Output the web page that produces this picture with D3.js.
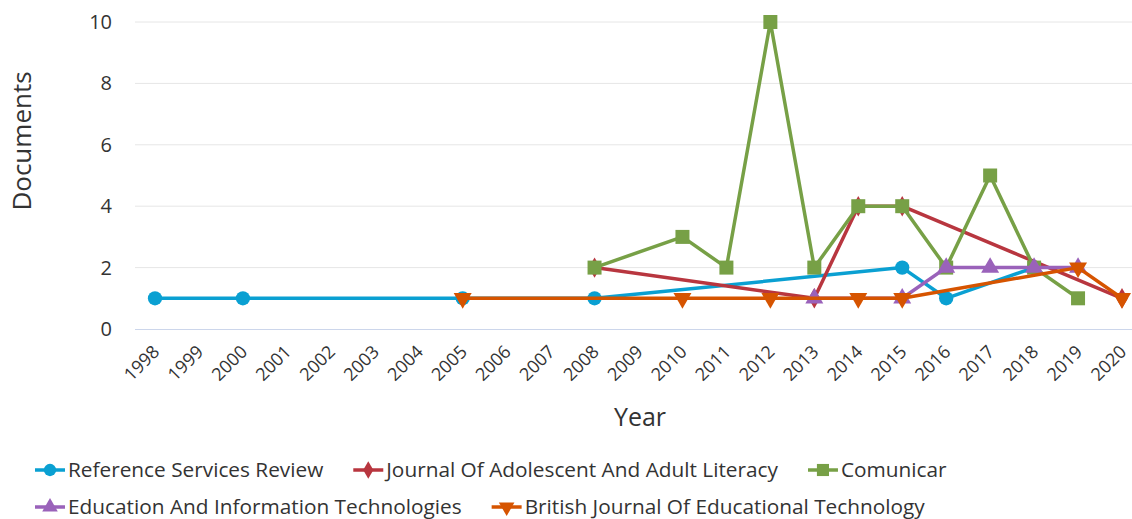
<!DOCTYPE html>
<html lang="en">
  <head>
    <meta charset="utf-8">
    <title>Documents per year by source</title>
    <style>
      body { margin: 0; background: #fff; }
      text { font-family: "Open Sans", "Noto Sans", sans-serif; fill: #333; }
    </style>
  </head>
  <body>

<script src="https://cdn.jsdelivr.net/npm/d3@7/dist/d3.min.js"></script>

<script>
// tick labels on the year axis
var years = d3.range(1998, 2021);
var yTicks = [0, 2, 4, 6, 8, 10];

// one array per source: [year, documents]
var referenceServicesReview = [[1998, 1], [2000, 1], [2005, 1], [2008, 1], [2015, 2], [2016, 1], [2018, 2]];
var journalAdolescentAdult = [[2008, 2], [2013, 1], [2014, 4], [2015, 4], [2020, 1]];
var comunicar = [[2008, 2], [2010, 3], [2011, 2], [2012, 10], [2013, 2], [2014, 4], [2015, 4],
                 [2016, 2], [2017, 5], [2018, 2], [2019, 1]];
var educationInfoTech = [[2013, 1], [2015, 1], [2016, 2], [2017, 2], [2018, 2], [2019, 2]];
var britishJournalEdTech = [[2005, 1], [2010, 1], [2012, 1], [2014, 1], [2015, 1], [2019, 2], [2020, 1]];

var series = [
  {name: "Reference Services Review", values: referenceServicesReview, color: "#0aa0d2", symbol: d3.symbolCircle, size: 160},
  {name: "Journal Of Adolescent And Adult Literacy", values: journalAdolescentAdult, color: "#b8363f", symbol: d3.symbolDiamond, size: 120},
  {name: "Comunicar", values: comunicar, color: "#77a046", symbol: d3.symbolSquare, size: 196},
  {name: "Education And Information Technologies", values: educationInfoTech, color: "#9a62ba", symbol: d3.symbolTriangle, size: 140},
  {name: "British Journal Of Educational Technology", values: britishJournalEdTech, color: "#d65400", symbol: d3.symbolTriangle, size: 140, flip: true}
];

var width = 1132, height = 519;
var plot = {left: 135, right: 1132, top: 22, bottom: 329};

var svg = d3.select("body").append("svg")
  .attr("width", width)
  .attr("height", height);

var x = d3.scaleLinear().domain([1998, 2020]).range([155, 1122]);
var y = d3.scaleLinear().domain([0, 10]).range([plot.bottom, plot.top]);

// horizontal grid
svg.append("g").selectAll("line")
  .data(yTicks.filter(function(t) { return t > 0; }))
  .enter().append("line")
    .attr("x1", plot.left).attr("x2", plot.right)
    .attr("y1", function(d) { return y(d); })
    .attr("y2", function(d) { return y(d); })
    .attr("stroke", "#e6e6e6")
    .attr("stroke-width", 1);

// y axis labels
var yAxis = svg.append("g")
  .attr("transform", "translate(" + 112 + ",0)")
  .call(d3.axisLeft(y).tickValues(yTicks).tickSize(0).tickPadding(0));
yAxis.select(".domain").remove();
yAxis.selectAll("text")
  .style("font-size", "20px")
  .style("font-family", "\"Open Sans\", sans-serif")
  .attr("fill", "#555");

// x axis
var xAxis = svg.append("g")
  .attr("transform", "translate(0," + plot.bottom + ")")
  .call(d3.axisBottom(x).tickValues(years).tickFormat(d3.format("d")).tickSize(0));
xAxis.select(".domain")
  .attr("d", "M" + plot.left + ",0.5H" + plot.right)
  .attr("stroke", "#ccd6eb");
xAxis.selectAll("text")
  .style("font-size", "18px")
  .style("font-family", "\"Open Sans\", sans-serif")
  .attr("fill", "#555")
  .attr("text-anchor", "end")
  .attr("dy", null)
  .attr("y", 0)
  .attr("transform", "translate(5,24) rotate(-45)");

// axis titles
svg.append("text")
  .attr("transform", "translate(31,141) rotate(-90)")
  .attr("text-anchor", "middle")
  .style("font-size", "26px")
  .text("Documents");

svg.append("text")
  .attr("x", 640).attr("y", 426)
  .attr("text-anchor", "middle")
  .style("font-size", "25px")
  .text("Year");

var line = d3.line()
  .x(function(d) { return x(d[0]); })
  .y(function(d) { return y(d[1]); });

function symbolPath(s) {
  return d3.symbol().type(s.symbol).size(s.size)();
}

// lines and markers, each series over the previous one
series.forEach(function(s) {
  var g = svg.append("g");
  g.append("path")
    .datum(s.values)
    .attr("d", line)
    .attr("fill", "none")
    .attr("stroke", s.color)
    .attr("stroke-width", 3.5)
    .attr("stroke-linejoin", "round");
  g.selectAll(".marker")
    .data(s.values)
    .enter().append("path")
      .attr("class", "marker")
      .attr("d", symbolPath(s))
      .attr("transform", function(d) {
        return "translate(" + x(d[0]) + "," + y(d[1]) + ")" + (s.flip ? " rotate(180)" : "");
      })
      .attr("fill", s.color);
});

// legend, flowing left to right and wrapping
var legend = svg.append("g");
var lx = 35, ly = 470, rowH = 37, maxX = 1000;
series.forEach(function(s) {
  var item = legend.append("g");
  item.append("line")
    .attr("x1", 0).attr("x2", 30)
    .attr("stroke", s.color).attr("stroke-width", 3.5);
  item.append("path")
    .attr("d", d3.symbol().type(s.symbol).size(s.size * 0.75)())
    .attr("transform", "translate(15,0)" + (s.flip ? " rotate(180)" : ""))
    .attr("fill", s.color);
  var t = item.append("text")
    .attr("x", 33).attr("dy", "0.35em")
    .style("font-size", "20.8px")
    .attr("fill", "#444")
    .text(s.name);
  var w = 33 + t.node().getComputedTextLength();
  if (lx + w > maxX) { lx = 35; ly += rowH; }
  item.attr("transform", "translate(" + lx + "," + ly + ")");
  lx += w + 30;
});
</script>

  </body>
</html>
